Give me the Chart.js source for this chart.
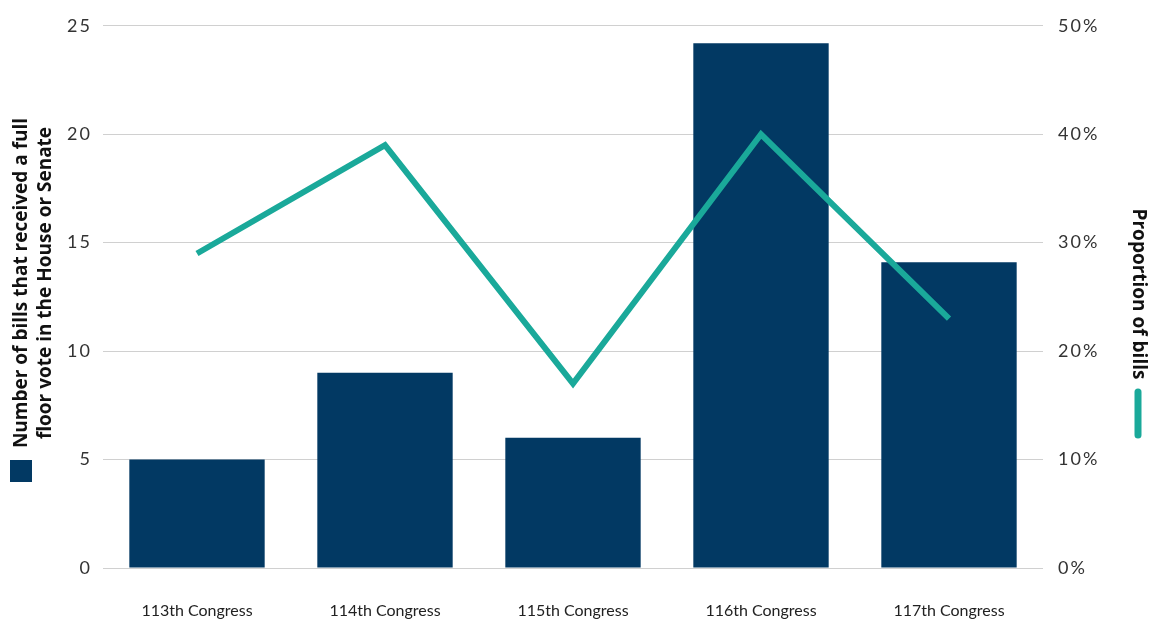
<!DOCTYPE html>
<html><head><meta charset="utf-8">
<script src="https://cdn.jsdelivr.net/npm/chart.js@4/dist/chart.umd.min.js"></script>
<style>html,body{margin:0;padding:0;background:#fff}#wrap{width:1155px;height:621px;position:relative}</style>
</head><body><div id="wrap"><canvas id="c" width="1155" height="621"></canvas></div>
<script>
const categories = ["113th Congress","114th Congress","115th Congress","116th Congress","117th Congress"];
const billCounts = [5, 9, 6, 24.2, 14.1];
const proportions = [29, 39, 17, 40, 23];
const leftTicks = [0,5,10,15,20,25];
const rightTicks = [0,10,20,30,40,50];
const leftTitle = ["Number of bills that received a full","floor vote in the House or Senate"];
const rightTitle = "Proportion of bills";

const NAVY = "#023963", TEAL = "#1aa99a";

const titles = {
  id: "titles",
  afterDraw(chart) {
    const ctx = chart.ctx;
    ctx.save();
    ctx.fillStyle = "#111";
    ctx.font = "bold 19px 'Open Sans'";
    ctx.textAlign = "center"; ctx.textBaseline = "middle";
    const cy = 283;
    ctx.save(); ctx.translate(22, cy); ctx.rotate(-Math.PI/2); ctx.fillText(leftTitle[0], 0, 0); ctx.restore();
    ctx.save(); ctx.translate(46, cy); ctx.rotate(-Math.PI/2); ctx.fillText(leftTitle[1], 0, 0); ctx.restore();
    ctx.fillStyle = NAVY; ctx.fillRect(10, 460, 22, 22);
    ctx.fillStyle = "#111";
    ctx.font = "bold 19px 'Open Sans'";
    ctx.save(); ctx.translate(1138, 294); ctx.rotate(Math.PI/2); ctx.fillText(rightTitle, 0, 0); ctx.restore();
    ctx.strokeStyle = TEAL; ctx.lineWidth = 7; ctx.lineCap = "round";
    ctx.beginPath(); ctx.moveTo(1138, 392); ctx.lineTo(1138, 435); ctx.stroke();
    ctx.restore();
  }
};

function spaced(s, sp) {
  if (s._spacedWrapped) return;
  s._spacedWrapped = true;
  const orig = s.drawLabels;
  s.drawLabels = function(area) {
    const ctx = this.ctx;
    const prev = ctx.letterSpacing;
    ctx.letterSpacing = sp;
    orig.call(this, area);
    ctx.letterSpacing = prev || "0px";
  };
}

new Chart(document.getElementById("c"), {
  data: {
    labels: categories,
    datasets: [
      { type: "line", data: proportions, yAxisID: "y1", borderColor: TEAL, borderWidth: 6,
        pointRadius: 0, tension: 0, borderJoinStyle: "miter", borderCapStyle: "butt", order: 0 },
      { type: "bar", data: billCounts, yAxisID: "y", backgroundColor: NAVY,
        categoryPercentage: 1, barPercentage: 0.72, order: 1 }
    ]
  },
  options: {
    responsive: false, animation: false,
    layout: { padding: { top: 25, bottom: 0, left: 0, right: 0 } },
    plugins: { legend: { display: false }, tooltip: { enabled: false } },
    scales: {
      x: {
        grid: { display: false, drawTicks: false }, border: { display: false },
        ticks: { color: "#222", font: { family: "Lato", size: 16 }, padding: 33 },
        afterFit(s) { s.height = 53; }
      },
      y: {
        position: "left", min: 0, max: 25,
        afterBuildTicks(s) { s.ticks = leftTicks.map(v => ({ value: v })); },
        grid: { color: "#d0d0d0", lineWidth: 1, drawTicks: false }, border: { display: false },
        ticks: { color: "#333", font: { family: "Lato", size: 18 }, padding: 11 },
        afterFit(s) { s.width = 103; spaced(s, "2px"); }
      },
      y1: {
        position: "right", min: 0, max: 50,
        afterBuildTicks(s) { s.ticks = rightTicks.map(v => ({ value: v })); },
        grid: { display: false, drawTicks: false }, border: { display: false },
        ticks: { color: "#333", font: { family: "Lato", size: 18 }, padding: 15, callback: v => v + "%" },
        afterFit(s) { s.width = 112; spaced(s, "2px"); }
      }
    }
  },
  plugins: [titles]
});
</script></body></html>
